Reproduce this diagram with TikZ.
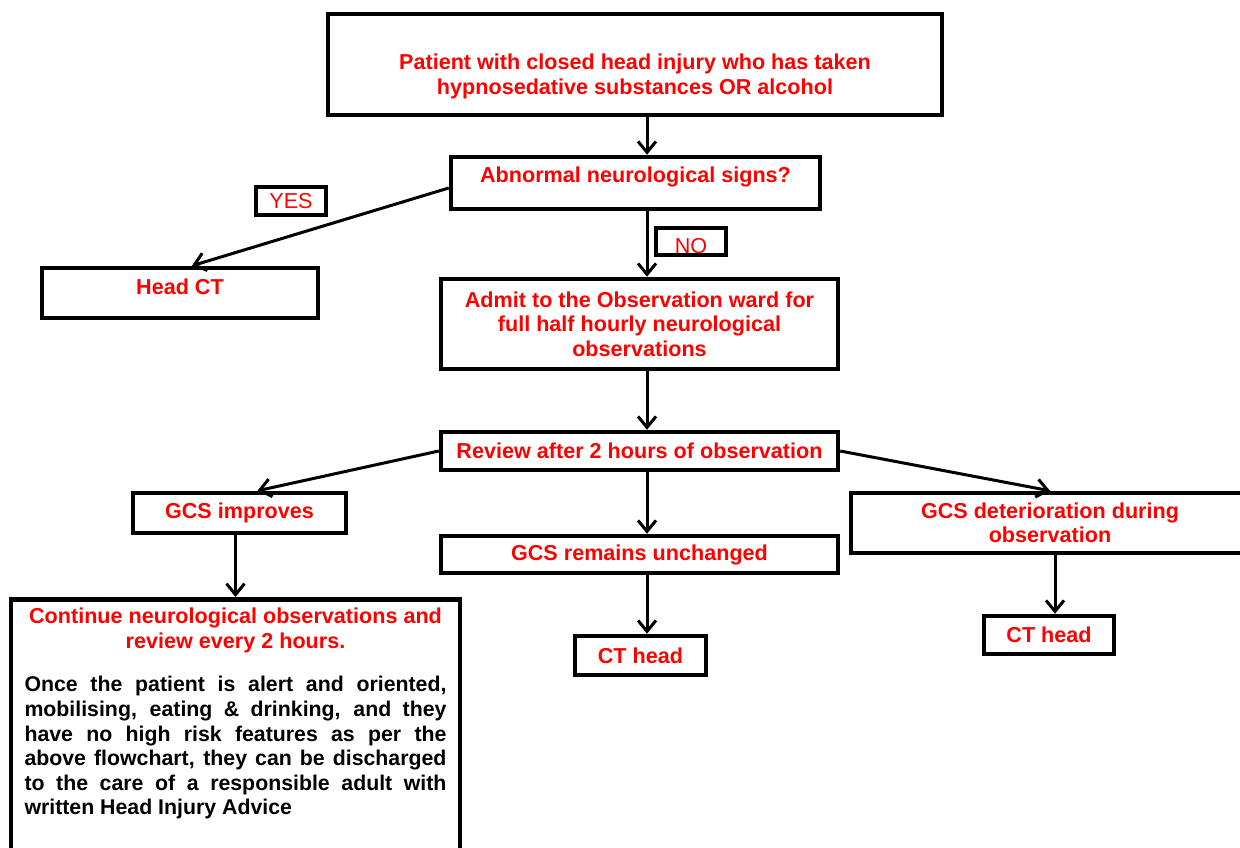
\documentclass[tikz,border=0pt]{standalone}
\usepackage{fontspec}
\setmainfont{Liberation Sans}
\usetikzlibrary{arrows.meta,calc}
\definecolor{fcred}{RGB}{255,0,0}
\newcommand{\fcfont}{\fontsize{21.6}{24.5}\selectfont\bfseries}
\newcommand{\fcbody}{\fontsize{21.3}{24.6}\selectfont\bfseries}
\begin{document}
\begin{tikzpicture}[x=1pt,y=-1pt,
  box/.style={draw, line width=4.5pt, fill=white, text=fcred, font=\fcfont, align=center, inner sep=0pt},
  tag/.style={box, font=\fcfont\mdseries},
  arr/.style={line width=3pt, -{Straight Barb[length=11pt,width=18pt,line width=3pt]}}]
\useasboundingbox (0,0) rectangle (1240,847);
\fill[white] (0,0) rectangle (1240,847);
\coordinate (ax) at (647,0);

\node[box, minimum width=614pt, minimum height=101pt] (top) at (635,64.5)
  {\rule{0pt}{39pt}Patient with closed head injury who has taken\\ hypnosedative substances OR alcohol};
\node[box, minimum width=369pt, minimum height=52pt] (abn) at (635.5,183)
  {Abnormal neurological signs?\rule[-16pt]{0pt}{16pt}};
\node[tag, minimum width=70pt, minimum height=28pt] (yes) at (291,201) {YES};
\node[box, minimum width=276pt, minimum height=50pt] (headct) at (180,293)
  {Head CT\rule[-12pt]{0pt}{12pt}};
\node[box, minimum width=397pt, minimum height=90pt] (admit) at (639.5,324)
  {Admit to the Observation ward for\\ full half hourly neurological\\ observations};
\node[box, minimum width=397pt, minimum height=38pt] (review) at (639.5,451)
  {Review after 2 hours of observation};
\node[box, minimum width=213pt, minimum height=40pt] (imp) at (239.5,513) {GCS improves};
\node[box, minimum width=397pt, minimum height=37pt] (unch) at (639.5,554.5) {GCS remains unchanged};
\node[box, minimum width=398pt, minimum height=60pt] (det) at (1050,523)
  {GCS deterioration during\\ observation};
\node[box, minimum width=131pt, minimum height=39pt] (ctmid) at (640.5,655.5) {CT head};
\node[box, minimum width=130pt, minimum height=38pt] (ctr) at (1049,635) {CT head};
\node[box, anchor=north, text width=422pt, align=justify, inner xsep=13.5pt, inner ysep=9pt] (cont) at (235.5,597)
  {{\centering Continue neurological observations and\\ review every 2 hours.\par}
   \vspace{18.8pt}
   {\fcbody\color{black}Once the patient is alert and oriented,\linebreak
   mobilising, eating \& drinking, and they\linebreak
   have no high risk features as per the\linebreak
   above flowchart, they can be discharged\linebreak
   to the care of a responsible adult with\linebreak
   written Head Injury Advice\par}
   \vspace*{80pt}};

\draw[arr] (top.south -| ax) -- (abn.north -| ax);
\draw[arr] ($(abn.west)+(0,5)$) -- ($(headct.north)+(12,0)$);
\draw[arr] (abn.south -| ax) -- (admit.north -| ax);
\node[tag, minimum width=70pt, minimum height=27pt] (no) at (691,241.5) {\rule{0pt}{24pt}NO};
\draw[arr] (admit.south -| ax) -- (review.north -| ax);
\draw[arr] (review.west) -- ($(imp.north)+(18,0)$);
\draw[arr] (review.east) -- (det.north);
\draw[arr] (review.south -| ax) -- (unch.north -| ax);
\draw[arr] (imp.south -| cont.north) -- (cont.north);
\draw[arr] (unch.south -| ax) -- (ctmid.north -| ax);
\coordinate (bx) at (1055,0);
\draw[arr] (det.south -| bx) -- (ctr.north -| bx);
\end{tikzpicture}
\end{document}
